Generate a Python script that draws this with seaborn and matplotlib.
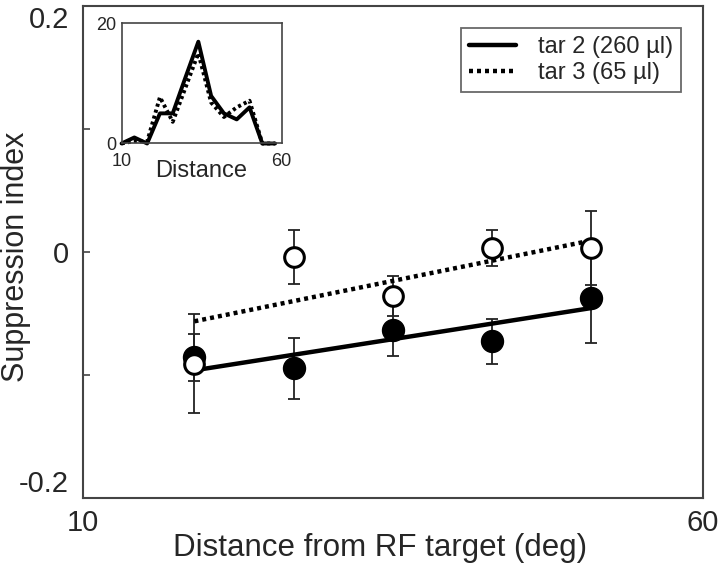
import matplotlib
matplotlib.use('Agg')
import matplotlib.pyplot as plt
import seaborn as sns

# data
dist = [19, 27, 35, 43, 51]
tar2 = [-0.086, -0.095, -0.064, -0.073, -0.038]
tar2_err = [0.019, 0.025, 0.021, 0.018, 0.036]
tar3 = [-0.091, -0.004, -0.036, 0.003, 0.003]
tar3_err = [0.040, 0.022, 0.016, 0.015, 0.030]

# regression lines
fit_x = [19, 51]
tar2_fit = [-0.0965, -0.0458]
tar3_fit = [-0.0566, 0.0092]

# inset: distance distribution
inset_x = [10, 14, 18, 22, 26, 30, 34, 38, 42, 46, 50, 54, 58]
inset_tar2 = [0, 1.0, 0, 5, 5, 11, 16.9, 7.9, 5, 4, 6, 0, 0]
inset_tar3 = [0, 0.4, 0.3, 7.7, 3.6, 9.3, 15, 6.8, 4.4, 6, 7.1, 0, 0]

sns.set_style('ticks')
plt.rcParams['font.family'] = ['Liberation Sans', 'DejaVu Sans']

fig = plt.figure(figsize=(7.2, 5.71), dpi=100)
ax = fig.add_axes([0.1149, 0.1287, 0.8615, 0.8608])

# fit lines
sns.lineplot(x=fit_x, y=tar2_fit, ax=ax, color='black', lw=3.2,
             label='tar 2 (260 µl)', zorder=2)
sns.lineplot(x=fit_x, y=tar3_fit, ax=ax, color='black', lw=3.2,
             linestyle=(0, (0.9, 0.9)), label='tar 3 (65 µl)', zorder=2)

# error bars
ax.errorbar(dist, tar2, yerr=tar2_err, fmt='none', ecolor='#222222',
            elinewidth=1.3, capsize=4, capthick=1.3, zorder=1)
ax.errorbar(dist, tar3, yerr=tar3_err, fmt='none', ecolor='#222222',
            elinewidth=1.3, capsize=4, capthick=1.3, zorder=1)

# points
sns.scatterplot(x=dist, y=tar2, ax=ax, s=250, color='black',
                edgecolor='black', linewidth=1, zorder=3)
sns.scatterplot(x=dist, y=tar3, ax=ax, s=200, color='white',
                edgecolor='black', linewidth=2.2, zorder=4)

ax.set_xlim(10, 60)
ax.set_ylim(-0.2, 0.2)
ax.set_xticks([10, 60])
ax.set_xticklabels(['10', '60'])
ax.set_yticks([-0.2, -0.1, 0, 0.1, 0.2])
ax.set_yticklabels(['-0.2', '', '0', '', '0.2'])
ax.tick_params(axis='y', direction='in', length=5, width=1.2,
               labelsize=21, pad=10, color='#444444')
ax.tick_params(axis='x', length=0, labelsize=21, pad=8)
ylabs = ax.get_yticklabels()
ylabs[0].set_verticalalignment('bottom')
ylabs[-1].set_verticalalignment('top')
ax.set_xlabel('Distance from RF target (deg)', fontsize=22.5)
ax.xaxis.set_label_coords(0.48, -0.072)
ax.set_ylabel('Suppression index', fontsize=22)
ax.yaxis.set_label_coords(-0.084, 0.49)
for s in ax.spines.values():
    s.set_visible(True)
    s.set_color('#444444')
    s.set_linewidth(1.5)

leg = ax.legend(loc='upper right', bbox_to_anchor=(0.9645, 0.955),
                borderaxespad=0, fontsize=17, frameon=True, fancybox=False,
                handlelength=2.0, borderpad=0.35, labelspacing=0.15,
                handletextpad=0.9)
leg.get_frame().set_edgecolor('#444444')
leg.get_frame().set_linewidth(1.3)

# inset
ins = fig.add_axes([0.1688, 0.7487, 0.2222, 0.2110])
sns.lineplot(x=inset_x, y=inset_tar2, ax=ins, color='black', lw=2.8,
             clip_on=False)
sns.lineplot(x=inset_x, y=inset_tar3, ax=ins, color='black', lw=2.8,
             linestyle=(0, (0.8, 0.8)), clip_on=False)
ins.set_xlim(10, 60)
ins.set_ylim(0, 20)
ins.set_xticks([10, 60])
ins.set_yticks([0, 20])
ins.tick_params(length=0, labelsize=13)
ins.tick_params(axis='y', pad=4)
ins.tick_params(axis='x', pad=7)
ins.set_xlabel('Distance', fontsize=17, labelpad=-7)
ins.set_ylabel('')
for s in ins.spines.values():
    s.set_visible(True)
    s.set_color('#444444')
    s.set_linewidth(1.2)

fig.savefig('out.png', dpi=100)
